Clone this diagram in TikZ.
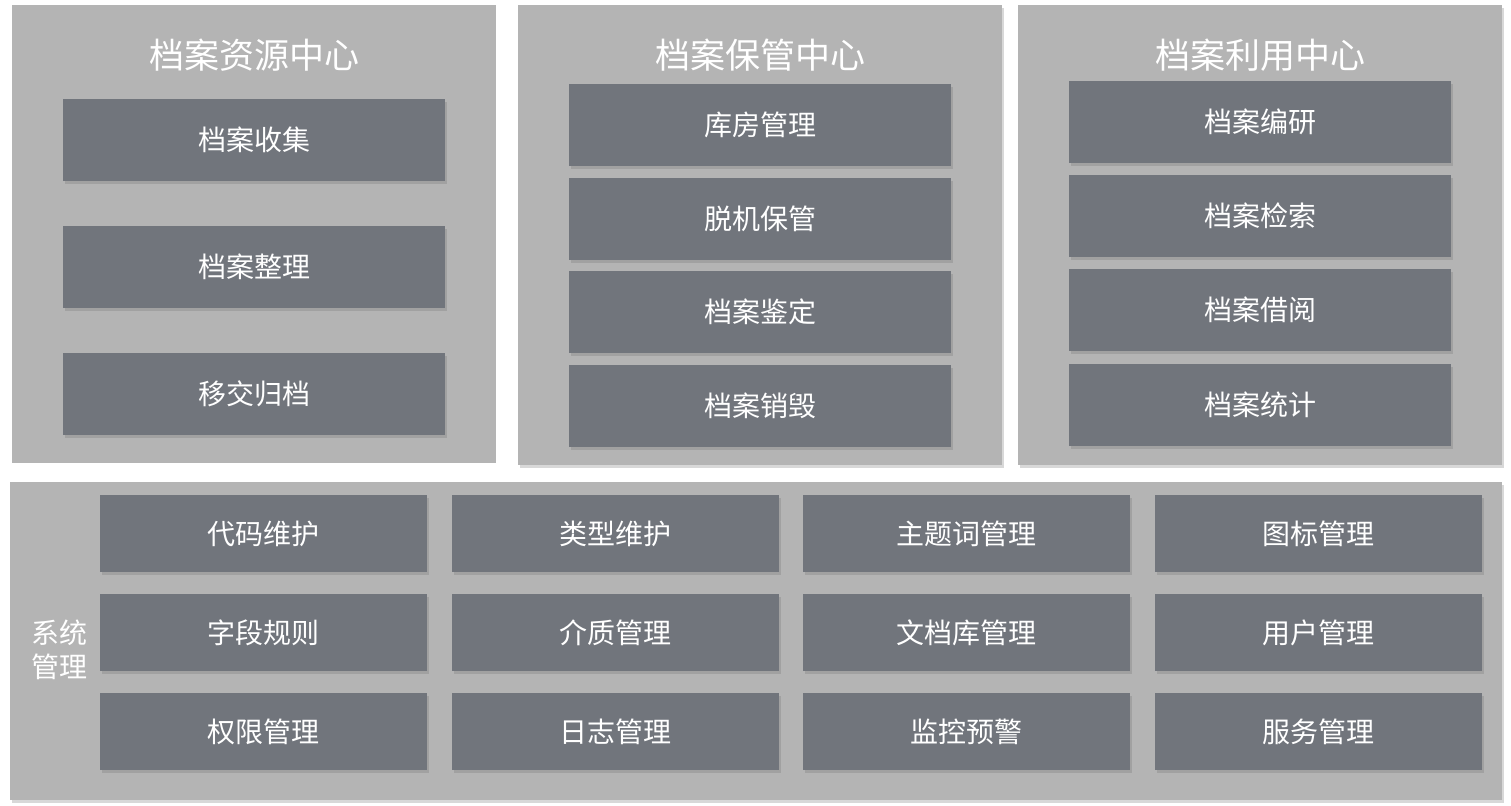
\documentclass[tikz,border=0pt]{standalone}
\usepackage{fontspec}
\setmainfont{Noto Sans CJK SC}
\usetikzlibrary{shadows}
\definecolor{panelc}{HTML}{B4B4B4}
\definecolor{boxc}{HTML}{71757C}
\begin{document}
\begin{tikzpicture}[x=0.5pt,y=-0.5pt,
  panel/.style={fill=panelc,draw=none},
  bx/.style={fill=boxc,draw=none,drop shadow={shadow xshift=1pt,shadow yshift=-1.5pt,opacity=0.35}},
  lbl/.style={text=white,font=\fontsize{14}{16}\selectfont},
  ttl/.style={text=white,font=\fontsize{17.5}{20}\selectfont}]
\useasboundingbox[fill=white] (0,0) rectangle (1511,806);
\fill[panel] (12,5) rectangle (496,463);
\fill[panel,drop shadow={shadow xshift=1pt,shadow yshift=-1.5pt,opacity=0.3}] (518,5) rectangle (1002,465);
\fill[panel,drop shadow={shadow xshift=1pt,shadow yshift=-1.5pt,opacity=0.3}] (1018,5) rectangle (1502,465);
\fill[panel,drop shadow={shadow xshift=1pt,shadow yshift=-1.5pt,opacity=0.3}] (10,482) rectangle (1502,800);
\node[ttl] (t1) at (254,55) {档案资源中心};
\node[ttl] (t2) at (760,55) {档案保管中心};
\node[ttl] (t3) at (1260,55) {档案利用中心};
% panel1
\foreach \y/\t/\n in {99/档案收集/a1,226/档案整理/a2,353/移交归档/a3}{
  \fill[bx] (63,\y) rectangle (445,\y+82);
  \node[lbl] (\n) at (254,\y+41) {\t};}
\foreach \y/\t/\n in {84/库房管理/b1,178/脱机保管/b2,271/档案鉴定/b3,365/档案销毁/b4}{
  \fill[bx] (569,\y) rectangle (951,\y+82);
  \node[lbl] (\n) at (760,\y+41) {\t};}
\foreach \y/\t/\n in {81/档案编研/c1,175/档案检索/c2,269/档案借阅/c3,364/档案统计/c4}{
  \fill[bx] (1069,\y) rectangle (1451,\y+82);
  \node[lbl] (\n) at (1260,\y+41) {\t};}
\node[lbl,align=center,font=\fontsize{14}{17}\selectfont] (sys) at (60,650) {系统\\管理};
\foreach \x/\y/\t/\n in {
 100/495/代码维护/d1,452/495/类型维护/d2,803/495/主题词管理/d3,1155/495/图标管理/d4,
 100/594/字段规则/d5,452/594/介质管理/d6,803/594/文档库管理/d7,1155/594/用户管理/d8,
 100/693/权限管理/d9,452/693/日志管理/d10,803/693/监控预警/d11,1155/693/服务管理/d12}{
  \fill[bx] (\x,\y) rectangle (\x+327,\y+77);
  \node[lbl] (\n) at (\x+163.5,\y+38.5) {\t};}
\end{tikzpicture}
\end{document}
